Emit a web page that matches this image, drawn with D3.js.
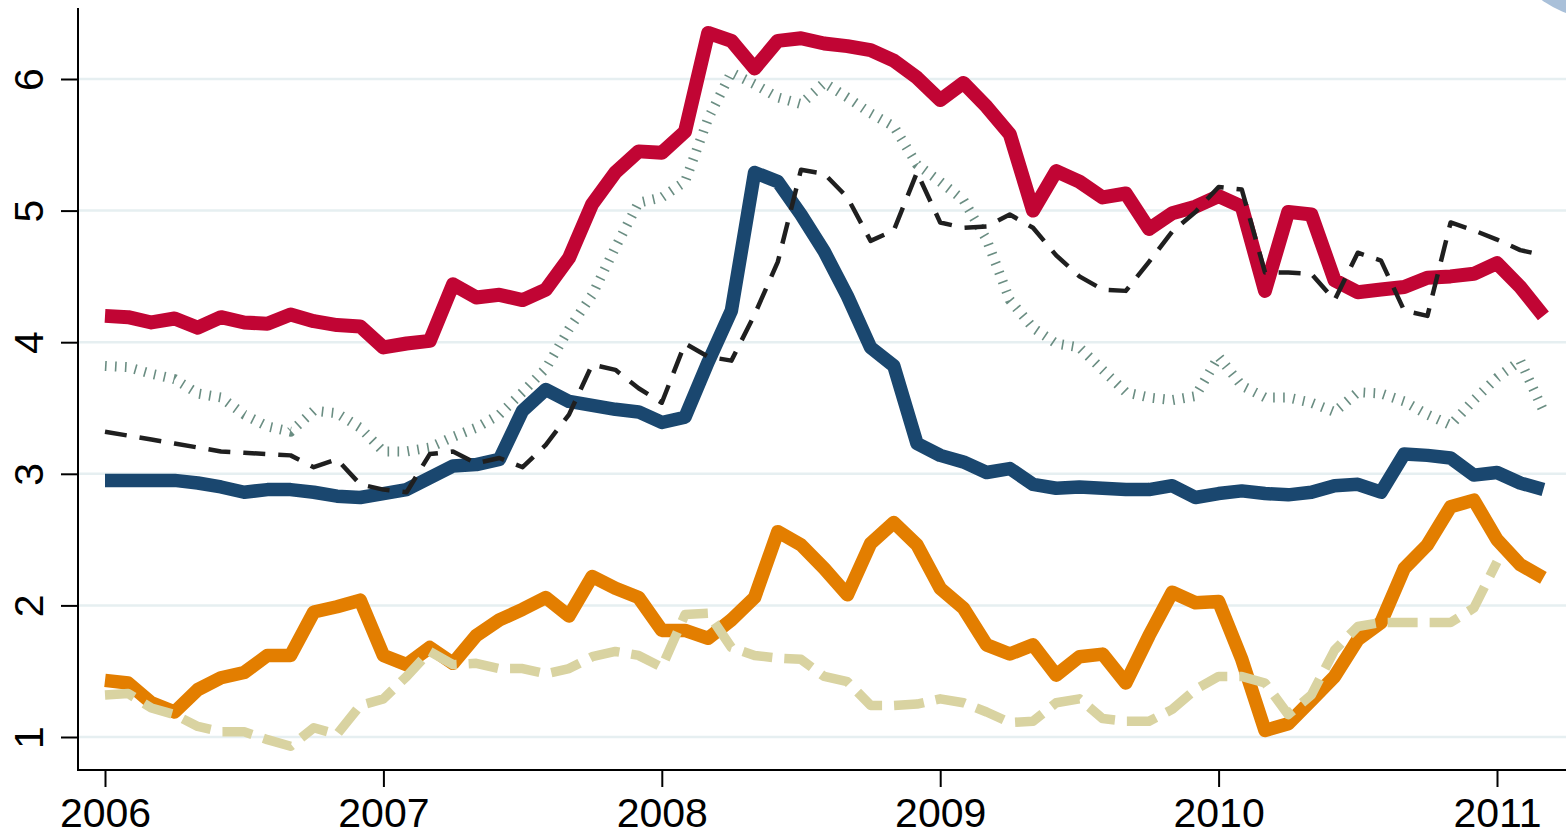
<!DOCTYPE html>
<html>
<head>
<meta charset="utf-8">
<script src="https://cdn.jsdelivr.net/npm/d3@7/dist/d3.min.js"></script>
<style>
  body { margin: 0; background: #fff; }
  svg { display: block; font-family: "Liberation Sans", Arial, sans-serif; }
</style>
</head>
<body>
<div class="chart"></div>
<script>
// monthly series, Jan 2006 .. Mar 2011
var startYear = 2006;
var yearTicks = [2006, 2007, 2008, 2009, 2010, 2011];
var valueTicks = [1, 2, 3, 4, 5, 6];

var redSeries = [4.20,4.19,4.15,4.18,4.11,4.19,4.15,4.14,4.21,4.16,4.13,4.12,
  3.96,3.99,4.01,4.44,4.34,4.36,4.32,4.40,4.64,5.05,5.29,5.45,
  5.44,5.60,6.35,6.29,6.08,6.29,6.31,6.27,6.25,6.22,6.14,6.01,
  5.84,5.97,5.79,5.58,5.00,5.30,5.22,5.10,5.13,4.86,4.98,5.03,
  5.11,5.03,4.39,4.99,4.97,4.47,4.38,4.40,4.42,4.49,4.50,4.52,
  4.60,4.42,4.20];

var blueSeries = [2.95,2.95,2.95,2.95,2.93,2.90,2.86,2.88,2.88,2.86,2.83,2.82,
  2.85,2.88,2.97,3.06,3.07,3.11,3.48,3.64,3.55,3.52,3.49,3.47,
  3.39,3.43,3.85,4.24,5.29,5.22,4.97,4.69,4.35,3.96,3.82,3.23,
  3.14,3.09,3.01,3.04,2.92,2.89,2.90,2.89,2.88,2.88,2.91,2.82,
  2.85,2.87,2.85,2.84,2.86,2.91,2.92,2.86,3.15,3.14,3.12,2.99,
  3.01,2.93,2.88];

var orangeSeries = [1.43,1.41,1.26,1.19,1.36,1.45,1.49,1.62,1.62,1.95,1.99,2.04,
  1.62,1.55,1.68,1.56,1.77,1.89,1.97,2.06,1.92,2.22,2.13,2.06,
  1.81,1.81,1.75,1.89,2.06,2.56,2.46,2.28,2.08,2.47,2.63,2.46,
  2.13,1.98,1.70,1.63,1.70,1.47,1.61,1.63,1.41,1.77,2.10,2.02,
  2.03,1.59,1.05,1.10,1.28,1.46,1.74,1.87,2.28,2.46,2.75,2.80,
  2.50,2.31,2.21];

var dashedSeries = [3.32,3.29,3.26,3.23,3.20,3.17,3.16,3.15,3.14,3.05,3.11,2.92,
  2.88,2.86,3.15,3.17,3.08,3.12,3.05,3.22,3.45,3.83,3.79,3.65,
  3.54,3.99,3.89,3.86,4.21,4.61,5.31,5.28,5.10,4.77,4.85,5.29,
  4.91,4.87,4.88,4.97,4.87,4.66,4.50,4.40,4.39,4.61,4.84,4.99,
  5.18,5.16,4.53,4.53,4.52,4.32,4.68,4.62,4.24,4.20,4.91,4.85,
  4.78,4.70,4.66];

var dottedSeries = [3.82,3.81,3.76,3.72,3.61,3.58,3.45,3.36,3.32,3.48,3.46,3.35,
  3.17,3.17,3.20,3.28,3.35,3.45,3.62,3.80,4.10,4.36,4.72,5.06,
  5.10,5.22,5.70,6.05,5.96,5.86,5.81,5.97,5.86,5.74,5.64,5.35,
  5.22,5.08,4.78,4.32,4.11,3.99,3.96,3.79,3.62,3.58,3.56,3.59,
  3.89,3.67,3.58,3.58,3.54,3.47,3.62,3.61,3.55,3.45,3.37,3.56,
  3.73,3.86,3.48];

var beigeSeries = [1.32,1.33,1.22,1.17,1.08,1.04,1.04,0.98,0.93,1.07,1.02,1.24,
  1.29,1.46,1.65,1.55,1.56,1.52,1.52,1.48,1.52,1.61,1.65,1.62,
  1.53,1.93,1.94,1.68,1.62,1.60,1.59,1.46,1.42,1.24,1.24,1.25,
  1.29,1.26,1.19,1.11,1.12,1.26,1.29,1.14,1.12,1.12,1.21,1.36,
  1.46,1.46,1.41,1.17,1.32,1.66,1.84,1.87,1.87,1.87,1.87,1.98,
  2.33];

// setup
var w = 1566, h = 836;
var axisX = 78, axisY = 770;

var svg = d3.select(".chart")
    .append("svg")
    .attr("width", w)
    .attr("height", h);

var xScale = d3.scaleLinear().domain([2006, 2011]).range([105, 1497]);
var yScale = d3.scaleLinear().domain([1, 6]).range([737, 79]);

// month index -> decimal year
var xMap = function(d, i) { return xScale(startYear + i / 12); };

// light blue badge in the corner
svg.append("circle")
    .attr("cx", 1600).attr("cy", -80).attr("r", 99)
    .style("fill", "#a9c0d9");

// gridlines
svg.selectAll(".grid")
    .data(valueTicks)
    .enter().append("line")
    .attr("class", "grid")
    .attr("x1", axisX).attr("x2", w)
    .attr("y1", function(d) { return yScale(d); })
    .attr("y2", function(d) { return yScale(d); })
    .style("stroke", "#e6eff1")
    .style("stroke-width", 2.5);

var line = d3.line()
    .x(xMap)
    .y(function(d) { return yScale(d); });

// series, back to front
var series = [
  {data: dottedSeries, color: "#6a8d82", width: 10, dash: "1.6,8.4"},
  {data: orangeSeries, color: "#e37e00", width: 13.5, dash: null},
  {data: beigeSeries, color: "#d9d3a1", width: 9.5, dash: "30,12"},
  {data: blueSeries, color: "#1a476f", width: 13.5, dash: null},
  {data: redSeries, color: "#c10534", width: 14, dash: null},
  {data: dashedSeries, color: "#1f1f1f", width: 4.5, dash: "22,13"}
];

series.forEach(function(s) {
  svg.append("path")
    .datum(s.data)
    .attr("class", "line")
    .attr("d", line)
    .style("fill", "none")
    .style("stroke", s.color)
    .style("stroke-width", s.width)
    .style("stroke-linejoin", "round")
    .style("stroke-linecap", "butt")
    .style("stroke-dasharray", s.dash);
});

// y-axis
var yAxis = svg.append("g")
    .attr("class", "y-axis")
    .attr("transform", "translate(" + axisX + ",0)")
    .call(d3.axisLeft(yScale).tickValues(valueTicks).tickFormat(d3.format("d")).tickSize(17).tickSizeOuter(0));
yAxis.select(".domain").remove();
yAxis.selectAll(".tick line").style("stroke", "#000").style("stroke-width", 2);
yAxis.selectAll(".tick text")
    .attr("x", null).attr("dy", null)
    .attr("transform", "translate(-35,0) rotate(-90)")
    .style("text-anchor", "middle")
    .style("font-size", "41px")
    .style("fill", "#000");
svg.append("line")
    .attr("x1", axisX).attr("x2", axisX)
    .attr("y1", 8).attr("y2", axisY + 1)
    .style("stroke", "#000").style("stroke-width", 2);

// x-axis
var xAxis = svg.append("g")
    .attr("class", "x-axis")
    .attr("transform", "translate(0," + axisY + ")")
    .call(d3.axisBottom(xScale).tickValues(yearTicks).tickFormat(d3.format("d")).tickSize(17).tickSizeOuter(0));
xAxis.select(".domain").remove();
xAxis.selectAll(".tick line").style("stroke", "#000").style("stroke-width", 2);
xAxis.selectAll(".tick text")
    .attr("y", 57).attr("dy", null)
    .style("font-size", "41px")
    .style("fill", "#000");
svg.append("line")
    .attr("x1", axisX - 1).attr("x2", w)
    .attr("y1", axisY).attr("y2", axisY)
    .style("stroke", "#000").style("stroke-width", 2);
</script>
</body>
</html>
